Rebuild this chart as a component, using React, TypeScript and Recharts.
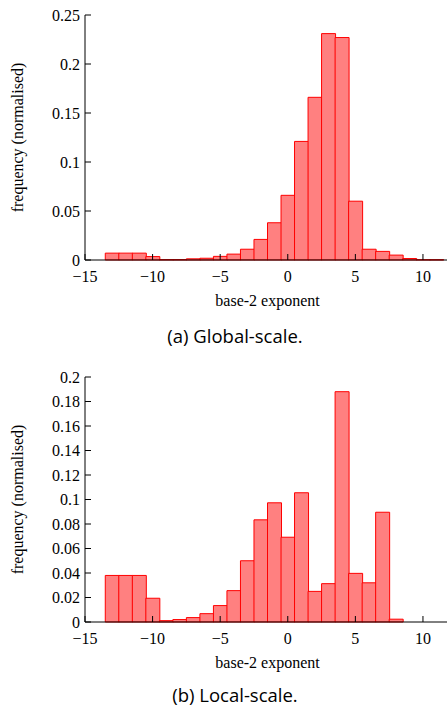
import { BarChart, Bar, XAxis, YAxis } from 'recharts'

// ── Data ─────────────────────────────────────────────────────────────────────

// bin centres (base-2 exponent), one unit wide
const exponents = [-13, -12, -11, -10, -9, -8, -7, -6, -5, -4, -3, -2, -1, 0, 1, 2, 3, 4, 5, 6, 7, 8, 9, 10, 11]

const globalFreq = [
  0.007, 0.007, 0.007, 0.0035, 0.0004, 0.0004, 0.0012, 0.0018, 0.0037, 0.006, 0.011, 0.021, 0.038,
  0.066, 0.121, 0.166, 0.231, 0.227, 0.06, 0.011, 0.0088, 0.005, 0.0015, 0.0003, 0.0003,
]

const localFreq = [
  0.038, 0.038, 0.038, 0.0194, 0.0011, 0.002, 0.0036, 0.0068, 0.0134, 0.0256, 0.05, 0.0834, 0.0973,
  0.0692, 0.1055, 0.025, 0.0313, 0.188, 0.0397, 0.032, 0.0896, 0.0023, 0, 0, 0,
]

const xTicks = [-15, -10, -5, 0, 5, 10]
const xDomain: [number, number] = [-15, 12]
const globalYTicks = [0, 0.05, 0.1, 0.15, 0.2, 0.25]
const localYTicks = [0, 0.02, 0.04, 0.06, 0.08, 0.1, 0.12, 0.14, 0.16, 0.18, 0.2]

const xLabel = 'base-2 exponent'
const yLabel = 'frequency (normalised)'
const captions = ['(a) Global-scale.', '(b) Local-scale.']

// ── Helpers ──────────────────────────────────────────────────────────────────

const serif = 'Liberation Serif'
const textStyle = { fontSize: 16, fill: '#000', fontFamily: serif }
const tickStyle = { ...textStyle, style: { fontFamily: serif } }

function fmtX(v: number): string {
  return v < 0 ? '\u2212' + Math.abs(v) : String(v)
}

function buildData(values: number[]) {
  return exponents.map((e, i) => ({ exp: e, freq: values[i] }))
}

interface HistProps {
  values: number[]
  yTicks: number[]
  yMax: number
}

function Histogram({ values, yTicks, yMax }: HistProps) {
  const data = buildData(values)
  return (
    <BarChart
      width={452}
      height={320}
      data={data}
      margin={{ top: 15, right: 2, bottom: 0, left: 0 }}
      barCategoryGap={0}
      barGap={0}
      style={{ fontFamily: serif }}
    >
      <XAxis
        dataKey="exp"
        type="number"
        domain={xDomain}
        ticks={xTicks}
        tickFormatter={fmtX}
        height={60}
        tickSize={-6}
        tickMargin={17}
        tick={tickStyle}
        stroke="#000"
        allowDataOverflow
        label={{ value: xLabel, position: 'insideBottom', offset: 14, style: textStyle }}
      />
      <XAxis
        xAxisId="top"
        orientation="top"
        dataKey="exp"
        type="number"
        domain={xDomain}
        ticks={xTicks}
        tickFormatter={() => ''}
        height={0}
        tickSize={-6}
        stroke="#000"
        allowDataOverflow
      />
      <YAxis
        domain={[0, yMax]}
        ticks={yTicks}
        width={85}
        tickSize={-6}
        tickMargin={11}
        tick={tickStyle}
        stroke="#000"
        interval={0}
        label={{
          value: yLabel,
          angle: -90,
          position: 'insideLeft',
          offset: 17,
          style: { ...textStyle, textAnchor: 'middle' },
        }}
      />
      <YAxis
        yAxisId="right"
        orientation="right"
        domain={[0, yMax]}
        ticks={yTicks}
        width={0}
        tickSize={-6}
        tickFormatter={() => ''}
        stroke="#000"
        interval={0}
      />
      <Bar dataKey="freq" fill="#ff8080" stroke="#ff0000" strokeWidth={1} isAnimationActive={false} />
    </BarChart>
  )
}

const captionStyle = {
  position: 'absolute' as const,
  left: 0,
  width: 470,
  textAlign: 'center' as const,
  fontFamily: '"Open Sans", sans-serif',
  fontSize: 18.5,
  color: '#000',
  lineHeight: '24px',
}

export default function App() {
  return (
    <div
      style={{
        position: 'fixed',
        left: 0,
        top: 0,
        width: 447,
        height: 706,
        overflow: 'hidden',
        background: '#fff',
        fontFamily: serif,
      }}
    >
      <div style={{ position: 'absolute', left: 0, top: 0 }}>
        <Histogram values={globalFreq} yTicks={globalYTicks} yMax={0.25} />
      </div>
      <div style={{ ...captionStyle, top: 324 }}>{captions[0]}</div>
      <div style={{ position: 'absolute', left: 0, top: 362 }}>
        <Histogram values={localFreq} yTicks={localYTicks} yMax={0.2} />
      </div>
      <div style={{ ...captionStyle, top: 683 }}>{captions[1]}</div>
    </div>
  )
}
